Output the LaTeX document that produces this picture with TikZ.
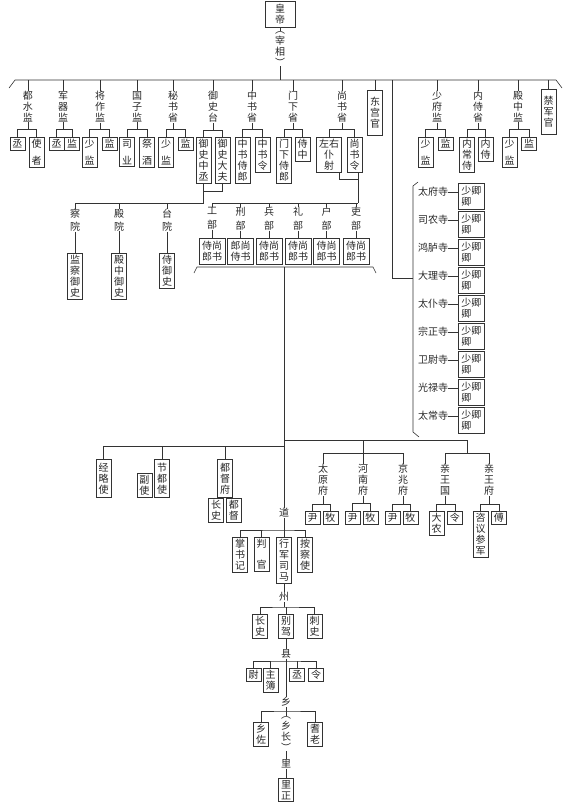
\documentclass[tikz,border=0pt]{standalone}
\usepackage{fontspec}
\newfontfamily\cjk{Noto Sans CJK SC}
\usetikzlibrary{positioning}
\tikzset{
  box/.style={draw, font=\cjk\fontsize{10}{11}\selectfont, align=center, inner xsep=2.5pt, inner ysep=2pt, text=black!85},
  wbox/.style={box, inner sep=3pt},
  lbl/.style={font=\cjk\fontsize{10}{11}\selectfont, align=center, inner sep=0pt, text=black!85}
}
\begin{document}
\begin{tikzpicture}[x=1pt, y=-1pt, line width=0.6pt, black!80]
\useasboundingbox (0,0) rectangle (576,808);

% Emperor and the main line.
\node[box, minimum width=30pt, inner ysep=3pt, anchor=north] (hd) at (280,1) {皇\\帝};
\node[lbl, anchor=north] (zx) at (280,31) {︵\\宰\\相\\︶};
\coordinate (busl) at (15,80);
\coordinate (busr) at (556,80);
\draw (busl) ++(-6,8) -- (busl) -- (busr) -- ++(6,8);
\draw (hd.south) -- (zx.north);
\draw (zx.south) -- (zx.south |- busl);

% Offices hanging from the main line.
\foreach \n/\x/\lab/\xa/\ca/\xb/\cb in {
  dsj/28/{都\\水\\监}/17.5/{丞}/36.5/{使\\[6pt]者},
  jqj/63/{军\\器\\监}/56.5/{丞}/72/{监},
  jzj/100/{将\\作\\监}/89.5/{少\\[6pt]监}/109.5/{监},
  gzj/137/{国\\子\\监}/127/{司\\[6pt]业}/147/{祭\\[6pt]酒},
  msj/173/{秘\\书\\省}/166/{少\\[6pt]监}/185.5/{监},
  yst/213/{御\\史\\台}/203.5/{御\\史\\中\\丞}/222.5/{御\\史\\大\\夫},
  zss/252/{中\\书\\省}/242.5/{中\\书\\侍\\郎}/262.5/{中\\书\\令},
  mxs/293/{门\\下\\省}/284/{门\\下\\侍\\郎}/302.5/{侍\\中},
  sss/342/{尚\\书\\省}/329/{左右\\仆\\射}/354.5/{尚\\书\\令},
  sfj/437/{少\\府\\监}/425.5/{少\\[6pt]监}/445.5/{监},
  nss/478/{内\\侍\\省}/467/{内\\常\\侍}/485.5/{内\\侍},
  dzj/518/{殿\\中\\监}/509.5/{少\\[6pt]监}/529/{监}}
{
  \node[lbl, anchor=north] (\n) at (\x,91) {\lab};
  \node[box, anchor=north] (\n a) at (\xa,137) {\ca};
  \node[box, anchor=north] (\n b) at (\xb,137) {\cb};
  \draw (\n.north) -- (\n.north |- busl);
  \draw (\n.south) -- ++(0,7) coordinate (\n j);
  \draw (\n a.north) |- (\n j) -| (\n b.north);
}
\node[box, inner ysep=7pt, anchor=north] (dgg) at (375,90) {东\\宫\\官};
\node[box, inner ysep=7pt, anchor=north] (jjg) at (548.5,89) {禁\\军\\官};
\draw (dgg.north) -- (dgg.north |- busl);
\draw (jjg.north) -- (jjg.north |- busl);

% Censorate courts.
\coordinate (ysj) at (203.5,203);
\draw (ysta.south) -- ++(0,8) -| (ystb.south);
\draw (ysta.south) -- (ysj);
\foreach \n/\x/\lab/\cb in {cyuan/75/{察\\[2pt]院}/{监\\察\\御\\史},
  dyuan/119/{殿\\[2pt]院}/{殿\\中\\御\\史}, tyuan/167/{台\\[2pt]院}/{侍\\御\\史}}
{
  \node[lbl, anchor=north] (\n) at (\x,209) {\lab};
  \node[box, anchor=north] (\n s) at (\x,253) {\cb};
  \draw (\n.north) -- (\n.north |- ysj);
  \draw (\n.south) -- (\n s.north);
}
\draw (cyuan.north |- ysj) -- (ysj);

% Six ministries.
\coordinate (lbj) at (358,203);
\draw ([xshift=-3pt]sssa.south east) -- ++(0,6) -| ([xshift=3.5pt]sssb.south);
\draw ([xshift=3.5pt]sssb.south) -- (lbj);
\foreach \n/\x/\lab/\cb in {gb/212/工/{侍尚\\郎书}, xb/240.5/刑/{郎尚\\侍书},
  bb/269/兵/{侍尚\\郎书}, lib/298/礼/{侍尚\\郎书}, hb/326.5/户/{侍尚\\郎书},
  lb/356/吏/{侍尚\\郎书}}
{
  \node[lbl, anchor=north] (\n) at (\x,207) {\lab\\[3pt]部};
  \node[wbox, anchor=north] (\n s) at (\x,238) {\cb};
  \draw (\n.north) -- (\n.north |- lbj);
  \draw (\n.south) -- (\n s.north);
}
\draw (gb.north |- lbj) -- (lbj);
\coordinate (bkl) at (197,267);
\coordinate (bkr) at (373,267);
\coordinate (trk) at (284,267);
\draw (bkl) ++(-3,6) -- (bkl) -- (bkr) -- ++(3,6);

% Nine courts.
\coordinate (busx) at (392,80);
\coordinate (sjf) at (392,278);
\coordinate (sjt) at (413,186);
\coordinate (sjb) at (413,432);
\draw (busx) -- (sjf) -- (sjf -| sjt);
\draw (sjt) ++(5,-4) -- (sjt) -- (sjb) -- ++(6,5);
\foreach \n/\lab [count=\i from 0] in {tf/太府寺, sn/司农寺, hl/鸿胪寺, dl/大理寺,
  tp/太仆寺, zz/宗正寺, ww/卫尉寺, gl/光禄寺, tc/太常寺}
{
  \node[lbl] (\n) at (433,192+28*\i) {\lab};
  \node[wbox, align=left, anchor=north west] (\n q) at (458,183+28*\i) {少卿\\卿};
  \draw (\n.east) -- (\n.east -| \n q.west);
}

% Trunk and lower left.
\node[lbl] (dao) at (284,513) {道};
\coordinate (lj) at (284,446);
\coordinate (rj) at (284,440);
\draw (trk) -- (dao.north);
\node[box, inner ysep=3.5pt, anchor=north] (jls) at (103.5,459) {经\\略\\使};
\node[box, inner ysep=3.5pt, anchor=north] (jds) at (162,459) {节\\都\\使};
\node[box, above left=0pt and 2pt of jds.south west] (fs) {副\\使};
\node[box, inner ysep=3.5pt, anchor=north] (ddf) at (225,459) {都\\督\\府};
\node[box, below left=0pt and 1pt of ddf.south] (ddcs) {长\\史};
\node[box, below right=0pt and 1pt of ddf.south] (dddd) {都\\督};
\draw (lj) -| (jls.north);
\draw (jds.north) -- (jds.north |- lj);
\draw (ddf.north) -- (ddf.north |- lj);

% Prefectures and princes.
\coordinate (fuj) at (363,440);
\coordinate (wangj) at (467,440);
\draw (rj) -- (wangj) -- ++(0,13) coordinate (wangb);
\draw (fuj) -- ++(0,13) coordinate (fub);
\foreach \n/\x/\lab in {tyf/323/{太\\原\\府}, hnf/363/{河\\南\\府}, jzf/403/{京\\兆\\府}}
{
  \node[lbl, anchor=north] (\n) at (\x,464) {\lab};
  \node[box, anchor=north east] (\n y) at (\x-2.5,511) {尹};
  \node[box, anchor=north west] (\n m) at (\x-0.5,511) {牧};
  \draw (\n.north) -- (\n.north |- fub);
  \draw (\n.south) -- ++(0,8) coordinate (\n j);
  \draw (\n y.north) |- (\n j) -| (\n m.north);
}
\draw (tyf.north |- fub) -- (jzf.north |- fub);
\foreach \n/\x/\lab/\ca/\cb in {qwg/445/{亲\\王\\国}/{大\\农}/{令},
  qwf/489/{亲\\王\\府}/{咨\\议\\参\\军}/{傅}}
{
  \node[lbl, anchor=north] (\n) at (\x,464) {\lab};
  \node[box, anchor=north east] (\n a) at (\x-0.5,511) {\ca};
  \node[box, anchor=north west] (\n b) at (\x+2,511) {\cb};
  \draw (\n.north) -- (\n.north |- wangb);
  \draw (\n.south) -- ++(0,8) coordinate (\n j);
  \draw (\n a.north) |- (\n j) -| (\n b.north);
}
\draw (qwg.north |- wangb) -- (qwf.north |- wangb);

% Circuit.
\coordinate (daoj) at (284,530);
\node[box, anchor=north] (zsj) at (240,537) {掌\\书\\记};
\node[box, anchor=north] (pg) at (261.5,537) {判\\[10pt]官};
\node[box, anchor=north] (xjsm) at (284,537) {行\\军\\司\\马};
\node[box, anchor=north] (acs) at (305,537) {按\\察\\使};
\draw (dao.south) -- (daoj);
\draw (zsj.north) |- (daoj) -| (acs.north);
\draw (pg.north) -- (pg.north |- daoj);
\draw (daoj) -- (xjsm.north);

% Prefecture.
\node[lbl] (zhou) at (284,597) {州};
\coordinate (zhouj) at (284,607);
\node[box, anchor=north] (zcs) at (260,614) {长\\史};
\node[box, anchor=north] (bj) at (286,614) {别\\驾};
\node[box, anchor=north] (cis) at (314.5,614) {刺\\史};
\draw (xjsm.south) -- (zhou.north);
\draw (zhou.south) -- (zhouj);
\draw (zcs.north) |- (zhouj) -| (cis.north);
\draw (bj.north) -- (bj.north |- zhouj);

% County.
\node[lbl] (xian) at (286,654) {县};
\coordinate (xianj) at (286,661);
\node[box, anchor=north] (wei) at (253.5,668) {尉};
\node[box, anchor=north] (zb) at (270.5,668) {主\\簿};
\node[box, anchor=north] (cheng) at (297,668) {丞};
\node[box, anchor=north] (ling) at (316,668) {令};
\draw (bj.south) -- (xian.north);
\draw (xian.south) -- (xianj);
\draw (wei.north) |- (xianj) -| (ling.north);
\draw (zb.north) -- (zb.north |- xianj);
\draw (cheng.north) -- (cheng.north |- xianj);

% Township and village.
\node[lbl] (xiang) at (286,702) {乡};
\coordinate (xiangj) at (286,711);
\node[box, anchor=north] (xz) at (261,722) {乡\\佐};
\node[box, anchor=north] (ql) at (315,722) {耆\\老};
\node[lbl, anchor=north] (xzh) at (286,716) {︵\\乡\\长\\︶};
\node[lbl] (li) at (286,764) {里};
\node[box, anchor=north] (lz) at (286,778) {里\\正};
\draw (xianj) -- (xiang.north);
\draw (xiang.south) -- (xiangj);
\draw (xz.north) |- (xiangj) -| (ql.north);
\draw (xiangj) -- (xzh.north);
\draw (xzh.south) -- (li.north);
\draw (li.south) -- (lz.north);
\end{tikzpicture}
\end{document}
